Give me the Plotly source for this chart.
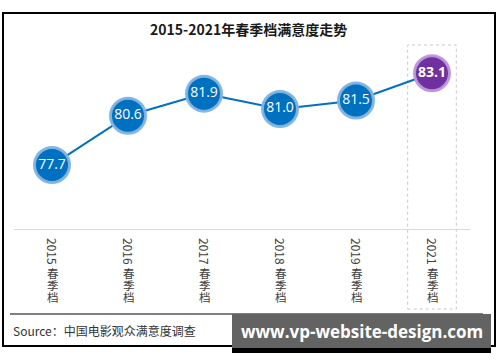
import plotly.graph_objects as go

categories = ["2015春季档", "2016春季档", "2017春季档", "2018春季档", "2019春季档", "2021春季档"]
scores = [77.7, 80.6, 81.9, 81.0, 81.5, 83.1]
title_text = "2015-2021年春季档满意度走势"
source_text = "Source：中国电影观众满意度调查"
watermark_text = "www.vp-website-design.com"

W, H = 500, 362
def px(x):
    return x / W
def py(y):
    return 1 - y / H

blue = "#0070C0"
purple = "#7030A0"
marker_colors = [blue] * (len(scores) - 1) + [purple]
ring_colors = ["rgba(130,180,225,0.95)"] * (len(scores) - 1) + ["rgba(190,150,220,0.95)"]
labels = [f"{v:.1f}" for v in scores[:-1]] + [f"<b>{scores[-1]:.1f}</b>"]

fig = go.Figure()
fig.add_trace(go.Scatter(
    x=categories, y=scores, mode="lines+markers+text",
    line=dict(color=blue, width=2),
    marker=dict(size=35, color=marker_colors, line=dict(color=ring_colors, width=3)),
    text=labels, textposition="middle center",
    textfont=dict(color="white", size=14, family="Open Sans"),
    hoverinfo="skip", cliponaxis=False,
))

shapes = [
    dict(type="rect", xref="x", yref="paper", x0=4.68, x1=5.32,
         y0=py(309), y1=py(45), line=dict(color="#c8c8c8", width=1, dash="dot"),
         fillcolor="rgba(0,0,0,0)", layer="below"),
    dict(type="rect", xref="paper", yref="paper", x0=px(3), x1=px(495),
         y0=py(346), y1=py(13), line=dict(color="black", width=2)),
    dict(type="line", xref="paper", yref="paper", x0=px(10), x1=px(483),
         y0=py(314), y1=py(314), line=dict(color="#7f7f7f", width=2)),
    dict(type="rect", xref="paper", yref="paper", x0=px(232), x1=px(491),
         y0=py(353), y1=py(346), line=dict(width=0), fillcolor="black"),
    dict(type="rect", xref="paper", yref="paper", x0=px(232), x1=px(491),
         y0=py(348), y1=py(314), line=dict(width=0), fillcolor="#636363"),
]

annotations = [
    dict(text=f"<b>{title_text}</b>", xref="paper", yref="paper", x=px(248), y=py(29),
         showarrow=False, font=dict(size=14, color="#1a1a1a", family="Noto Sans CJK SC"),
         xanchor="center", yanchor="middle"),
    dict(text=source_text, xref="paper", yref="paper", x=px(11), y=py(330),
         showarrow=False, font=dict(size=12, color="#333333", family="Noto Sans CJK SC"),
         xanchor="left", yanchor="middle"),
    dict(text=f"<b>{watermark_text}</b>", xref="paper", yref="paper", x=px(362), y=py(331),
         showarrow=False, font=dict(size=17, color="white", family="Open Sans"),
         xanchor="center", yanchor="middle"),
]

# category labels: rotated year + upright stacked Chinese characters (vertical text)
for cat in categories:
    year, rest = cat[:4], cat[4:]
    annotations.append(dict(text=year, xref="x", yref="paper", x=cat, y=py(251),
                            showarrow=False, textangle=90, borderpad=0,
                            font=dict(size=12, color="#404040", family="Noto Sans CJK SC"),
                            xanchor="center", yanchor="middle"))
    for i, ch in enumerate(rest):
        annotations.append(dict(text=ch, xref="x", yref="paper", x=cat, y=py(273 + 12 * i),
                                showarrow=False, borderpad=0,
                                font=dict(size=11.5, color="#404040", family="Noto Sans CJK SC"),
                                xanchor="center", yanchor="middle", xshift=1))

fig.update_layout(
    width=W, height=H,
    margin=dict(l=0, r=0, t=0, b=0),
    paper_bgcolor="white", plot_bgcolor="white",
    showlegend=False,
    shapes=shapes, annotations=annotations,
    xaxis=dict(domain=[px(14), px(470)], type="category", range=[-0.5, 5.5],
               showline=True, linecolor="#d9d9d9", linewidth=1, showgrid=False,
               ticks="", showticklabels=False, fixedrange=True),
    yaxis=dict(domain=[py(229), py(45)], range=[73.94, 84.76], visible=False,
               showgrid=False, zeroline=False, fixedrange=True),
)

fig.write_html("out.html", config={"displayModeBar": False},
               post_script="document.body.style.margin='0';document.body.style.overflow='hidden';")
